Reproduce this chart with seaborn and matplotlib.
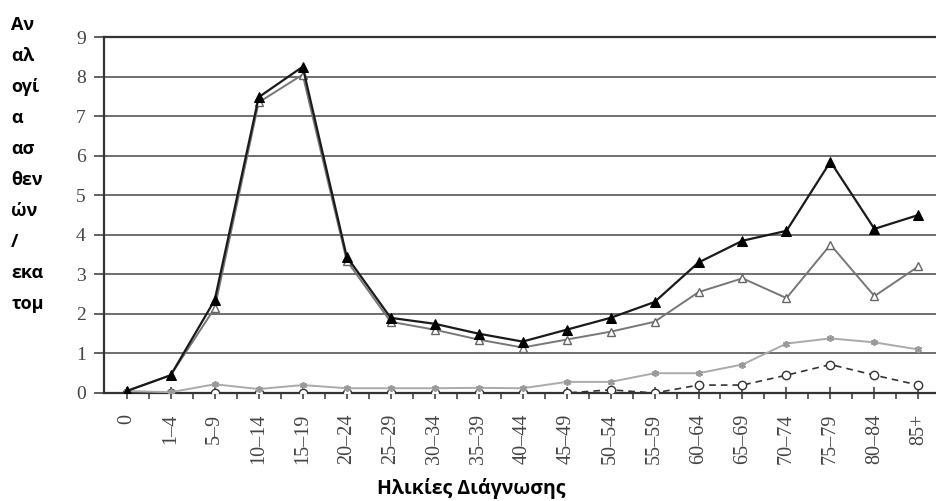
import matplotlib
matplotlib.use("Agg")
import matplotlib.pyplot as plt
import seaborn as sns
import pandas as pd
import numpy as np

# Κατηγορίες ηλικιών διάγνωσης
ilikies = ["0", "1–4", "5–9", "10–14", "15–19", "20–24", "25–29", "30–34", "35–39",
           "40–44", "45–49", "50–54", "55–59", "60–64", "65–69", "70–74", "75–79",
           "80–84", "85+"]

# Σειρές δεδομένων (ανά εκατομμύριο)
synolo = [0.05, 0.45, 2.35, 7.48, 8.25, 3.45, 1.9, 1.75, 1.5, 1.3, 1.6, 1.9, 2.3,
          3.3, 3.85, 4.1, 5.85, 4.15, 4.5]
seira_2 = [0.05, 0.45, 2.15, 7.35, 8.05, 3.35, 1.8, 1.6, 1.35, 1.15, 1.35, 1.55, 1.8,
           2.55, 2.9, 2.4, 3.75, 2.45, 3.2]
seira_3 = [0.05, 0.02, 0.22, 0.1, 0.2, 0.12, 0.12, 0.12, 0.13, 0.12, 0.28, 0.28, 0.5,
           0.5, 0.72, 1.25, 1.38, 1.28, 1.1]
seira_4 = [0.0, 0.0, 0.0, 0.0, 0.0, 0.0, 0.0, 0.0, 0.0, 0.0, 0.0, 0.08, 0.0,
           0.2, 0.2, 0.45, 0.72, 0.45, 0.2]

thesi = np.arange(len(ilikies))
df = pd.DataFrame({"thesi": thesi, "s1": synolo, "s2": seira_2, "s3": seira_3, "s4": seira_4})

sns.set_style("white")
fig = plt.figure(figsize=(9.36, 5.01), dpi=100)
ax = fig.add_axes([0.111, 0.2156, 0.889, 0.7104])

# Σειρές με τη σειρά σχεδίασης
sns.lineplot(data=df, x="thesi", y="s4", ax=ax, color="#333333", lw=1.2, linestyle=(0, (4, 3)),
             marker="o", markersize=6, markerfacecolor="white", markeredgecolor="#333333",
             markeredgewidth=1.0, zorder=3)
sns.lineplot(data=df, x="thesi", y="s3", ax=ax, color="#aaaaaa", lw=1.4,
             marker=(6, 2, 0), markersize=5, markeredgecolor="#999999",
             markeredgewidth=1.2, zorder=3)
sns.lineplot(data=df, x="thesi", y="s2", ax=ax, color="#777777", lw=1.4,
             marker="^", markersize=6, markerfacecolor="white", markeredgecolor="#666666",
             markeredgewidth=1.0, zorder=4)
sns.lineplot(data=df, x="thesi", y="s1", ax=ax, color="#1a1a1a", lw=1.6,
             marker="^", markersize=6.5, markerfacecolor="black", markeredgecolor="black", zorder=5)

ax.set_xlim(-0.52, 18.4)
ax.set_ylim(0, 9)
ax.set_yticks(range(0, 10))
ax.set_xticks(thesi)
ax.set_xticklabels(ilikies, rotation=90, family="Liberation Serif", fontsize=14.5, color="#444444")
ax.set_xticks(thesi[:-1] + 0.5, minor=True)
for lbl in ax.get_yticklabels():
    lbl.set_family("Liberation Serif")
    lbl.set_fontsize(14)
    lbl.set_color("#444444")

ax.grid(axis="y", color="#555555", lw=1.2)
ax.set_axisbelow(True)
ax.tick_params(axis="y", direction="out", length=7, width=1.2, color="#444444", pad=6, left=True)
ax.tick_params(axis="x", which="major", direction="inout", length=8, width=1.2, color="#444444",
               pad=11, bottom=True)
ax.tick_params(axis="x", which="minor", direction="out", length=4, width=1.2, color="#444444",
               bottom=True)
for s in ["left", "top", "bottom"]:
    ax.spines[s].set_color("#333333")
    ax.spines[s].set_linewidth(1.6)
ax.spines["right"].set_visible(False)
ax.set_xlabel("")
ax.set_ylabel("")

# Τίτλοι αξόνων
kommatia = ["Αν", "αλ", "ογί", "α", "ασ", "θεν", "ών", "/", "εκα", "τομ"]
fig.text(0.012, 0.968, "\n".join(kommatia), ha="left", va="top", family="Open Sans",
         fontweight="bold", fontsize=13, linespacing=1.93, color="black")
fig.text(0.503, 0.003, "Ηλικίες Διάγνωσης", ha="center", va="bottom", family="Open Sans",
         fontweight="bold", fontsize=14, color="black")

fig.savefig("out.png", dpi=100)
